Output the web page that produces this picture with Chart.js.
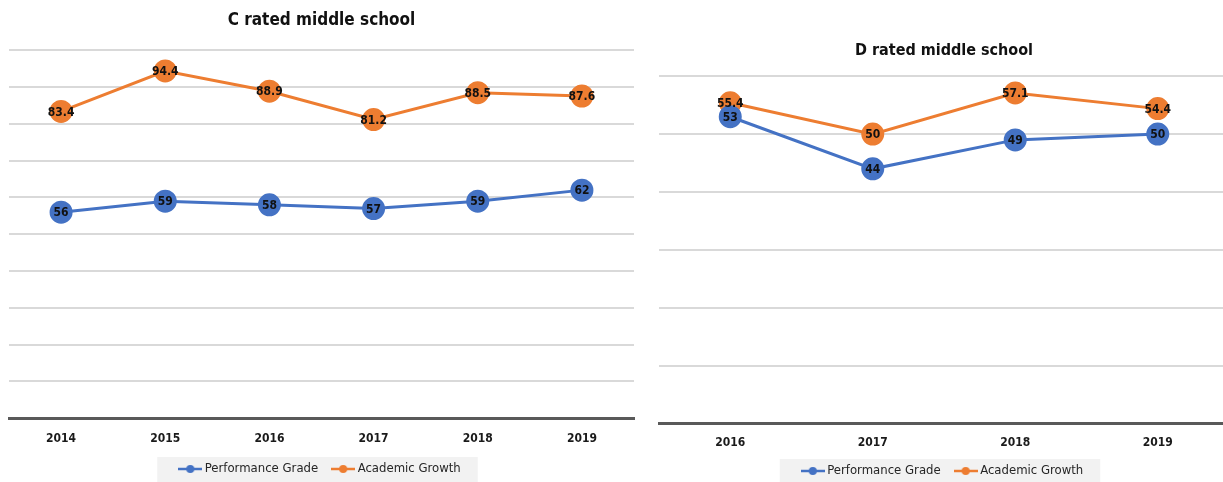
<!DOCTYPE html>
<html>
<head>
<meta charset="utf-8">
<script src="https://cdn.jsdelivr.net/npm/chart.js@4.4.1/dist/chart.umd.min.js"></script>
<style>
  html, body { margin: 0; padding: 0; background: #fff; }
  body { position: relative; width: 1223px; height: 482px; overflow: hidden; }
  .box { position: absolute; top: 0; height: 482px; }
  #leftBox  { left: -4px;  width: 651px; }
  #rightBox { left: 645px; width: 600px; }
</style>
</head>
<body>
<div class="box" id="leftBox"><canvas id="chartC"></canvas></div>
<div class="box" id="rightBox"><canvas id="chartD"></canvas></div>
<script>
// ── data ──────────────────────────────────────────────────
const yearsC  = ['2014', '2015', '2016', '2017', '2018', '2019'];
const perfC   = [56, 59, 58, 57, 59, 62];
const growthC = [83.4, 94.4, 88.9, 81.2, 88.5, 87.6];

const yearsD  = ['2016', '2017', '2018', '2019'];
const perfD   = [53, 44, 49, 50];
const growthD = [55.4, 50, 57.1, 54.4];

const BLUE   = '#4472C4';
const ORANGE = '#ED7D31';
const FONT   = "'Liberation Sans Narrow', 'DejaVu Sans Condensed', 'Liberation Sans', sans-serif";
const LEGEND_PAD = 17;

// small line + dot marker, like the excel legend
function makeMarker(color) {
  const c = document.createElement('canvas');
  c.width = 24; c.height = 10;
  const g = c.getContext('2d');
  g.strokeStyle = color;
  g.lineWidth = 2.5;
  g.beginPath(); g.moveTo(0, 5); g.lineTo(24, 5); g.stroke();
  g.fillStyle = color;
  g.beginPath(); g.arc(12, 5, 4, 0, Math.PI * 2); g.fill();
  return c;
}

// value labels sitting on top of each dot
const pointLabels = {
  id: 'pointLabels',
  afterDatasetsDraw(chart) {
    const ctx = chart.ctx;
    ctx.save();
    ctx.font = 'bold 12px ' + FONT;
    ctx.fillStyle = '#111';
    ctx.textAlign = 'center';
    ctx.textBaseline = 'middle';
    chart.data.datasets.forEach((ds, i) => {
      chart.getDatasetMeta(i).data.forEach((pt, j) => {
        ctx.fillText(String(ds.data[j]), pt.x, pt.y + 1);
      });
    });
    ctx.restore();
  }
};

// light grey panel behind the legend (worked out from the legend's own layout)
const legendPanel = {
  id: 'legendPanel',
  beforeDraw(chart) {
    const lg = chart.legend;
    if (!lg || !lg.lineWidths) return;
    const lw = lg.lineWidths[0];
    const startX = (lg.left + LEGEND_PAD + lg.right - lw) / 2;
    const endX = startX + lw - LEGEND_PAD;
    const midY = lg.top + LEGEND_PAD + 6.5;
    const ctx = chart.ctx;
    ctx.save();
    ctx.fillStyle = '#f2f2f2';
    ctx.fillRect(startX - 25, midY - 12, endX - startX + 42, 40);
    ctx.restore();
  }
};

function buildChart(id, title, labels, perf, growth, yMax, pad) {
  const ctx = document.getElementById(id).getContext('2d');
  return new Chart(ctx, {
    type: 'line',
    data: {
      labels: labels,
      datasets: [
        {
          label: 'Performance Grade',
          data: perf,
          borderColor: BLUE,
          backgroundColor: BLUE,
          borderWidth: 3,
          pointRadius: 10,
          pointHoverRadius: 10,
          tension: 0
        },
        {
          label: 'Academic Growth',
          data: growth,
          borderColor: ORANGE,
          backgroundColor: ORANGE,
          borderWidth: 3,
          pointRadius: 10,
          pointHoverRadius: 10,
          tension: 0
        }
      ]
    },
    options: {
      responsive: true,
      maintainAspectRatio: false,
      animation: false,
      layout: { padding: pad.layout },
      plugins: {
        title: {
          display: true,
          text: title,
          color: '#111',
          font: { family: FONT, size: pad.titleSize, weight: 'bold' },
          padding: pad.title
        },
        legend: {
          position: 'bottom',
          labels: {
            color: '#262626',
            font: { family: FONT, size: 13 },
            usePointStyle: true,
            pointStyleWidth: 16,
            padding: LEGEND_PAD,
            generateLabels: (chart) => chart.data.datasets.map((ds, i) => ({
              text: ds.label,
              fontColor: '#262626',
              pointStyle: makeMarker(ds.borderColor),
              fillStyle: ds.borderColor,
              strokeStyle: ds.borderColor,
              lineWidth: 0,
              datasetIndex: i
            }))
          }
        },
        tooltip: { enabled: false }
      },
      scales: {
        x: {
          offset: true,
          grid: { display: false },
          border: { color: '#595959', width: 3 },
          ticks: {
            color: '#1a1a1a',
            padding: pad.tickPad,
            font: { family: FONT, size: 12, weight: 'bold' }
          },
          afterFit: (s) => { s.height += pad.extra; }
        },
        y: {
          min: 0,
          max: yMax,
          border: { display: false },
          grid: { color: '#d9d9d9', lineWidth: 2, drawTicks: false },
          ticks: { display: false, stepSize: 10 },
          afterFit: (s) => { s.width = 0; }
        }
      }
    },
    plugins: [legendPanel, pointLabels]
  });
}

window.addEventListener('DOMContentLoaded', () => {
  buildChart('chartC', 'C rated middle school', yearsC, perfC, growthC, 100, {
    layout: { left: 0, right: 0, top: 6, bottom: -3.5 },
    title: { top: 4, bottom: 20 },
    titleSize: 17,
    tickPad: 6,
    extra: -7
  });
  buildChart('chartD', 'D rated middle school', yearsD, perfD, growthD, 60, {
    layout: { left: 14, right: 16, top: 28, bottom: -5.5 },
    title: { top: 13, bottom: 16 },
    titleSize: 16,
    tickPad: 4,
    extra: -6.5
  });
});
</script>
</body>
</html>
